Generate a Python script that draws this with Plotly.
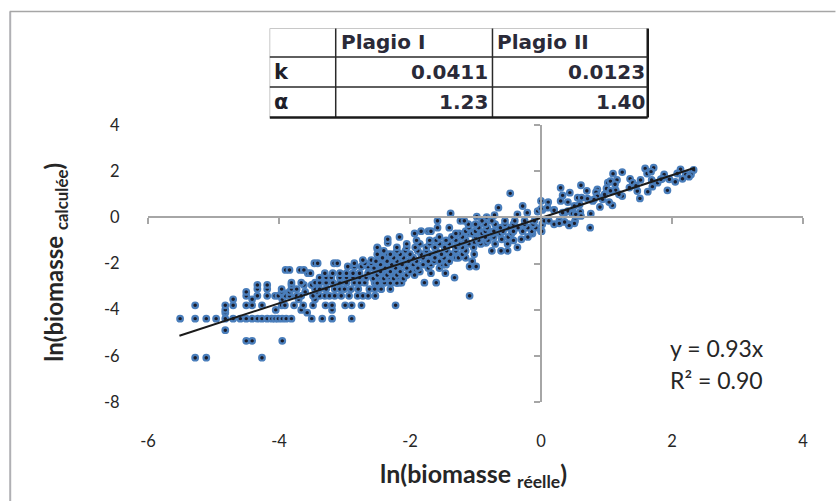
import plotly.graph_objects as go

level_y = [-6.08, -5.35, -4.89, -4.39, -4.13, -4.01, -3.81, -3.55, -3.40, -3.23, -3.11, -2.93, -2.83, -2.61, -2.42, -2.28, -2.13, -1.99, -1.85, -1.60, -1.36, -1.10, -0.95]
level_x = [
    [-5.28, -5.11, -4.26],
    [-4.50, -4.41, -3.95],
    [-4.82],
    [-5.51, -5.28, -5.11, -4.96, -4.82, -4.70, -4.59, -4.50, -4.41, -4.33, -4.26, -4.18, -4.11, -4.06, -4.01, -3.95, -3.89, -3.81, -3.50, -3.34, -3.19, -2.89],
    [-3.57, -4.82],
    [-3.66, -3.19, -4.82, -4.05],
    [-5.28, -4.82, -4.70, -4.50, -4.41, -4.26, -3.96, -3.91, -3.77, -3.63, -3.48, -3.29, -3.19, -2.99, -2.89, -2.74, -2.22],
    [-4.70, -4.41, -3.95, -3.70, -3.45],
    [-4.50, -4.33, -4.18, -4.06, -4.01, -3.90, -3.84, -3.73, -3.66, -3.48, -3.38, -3.30, -3.23, -3.15, -3.05, -2.93, -2.80, -2.72, -2.64, -2.53, -2.53, -1.09],
    [-4.50, -3.95, -3.96, -3.84, -3.60, -3.42],
    [-4.33, -4.18, -3.96, -3.81, -3.73, -3.45, -3.38, -3.28, -3.15, -3.07, -3.00, -2.90, -2.79, -2.62, -2.54, -2.44, -2.44, -2.30],
    [-4.33, -4.18, -3.81, -3.62, -3.50],
    [-3.81, -3.66, -3.45, -3.38, -3.28, -3.18, -3.07, -2.97, -2.85, -2.77, -2.69, -2.54, -2.40, -2.39, -2.28, -2.16, -2.13, -1.78, -1.60],
    [-3.38, -3.28, -3.20, -3.07, -2.97, -2.87, -2.77, -2.67, -2.54, -2.44, -2.32, -2.19, -1.32],
    [-3.56, -3.52, -3.30, -3.18, -3.07, -2.97, -2.87, -2.77, -2.64, -2.52, -2.39, -2.26, -1.68, -1.46],
    [-3.90, -3.68, -3.84, -3.62, -1.91],
    [-2.95, -2.85, -2.74, -2.64, -2.52, -2.36, -2.21, -1.09, -0.99],
    [-3.46, -3.16, -2.85, -2.69, -2.59, -2.44, -2.32, -2.19, -3.41, -3.11],
    [-2.72, -2.59, -2.49, -2.36, -2.23, -2.13],
    [-2.46, -2.34, -2.24, -2.16],
    [-2.49, -2.50],
    [-2.34, -1.02, -0.84],
    [-2.34, -0.60, -0.30],
]

band_y = [-2.85, -2.65, -2.50, -2.35, -2.20, -2.05, -1.90, -1.75, -1.60, -1.45, -1.30, -1.15, -1.00, -0.85, -0.70, -0.60, -0.45, -0.30, -0.15]
band_x = [
    [-2.50, -2.30, -2.20],
    [-2.56, -2.40, -2.25, -2.10],
    [-2.50, -2.35, -2.20, -2.05, -1.93],
    [-2.45, -2.30, -2.15, -2.00, -1.85],
    [-2.55, -2.38, -2.22, -2.05, -1.88, -1.72, -1.55],
    [-2.45, -2.28, -2.12, -1.95, -1.80, -1.68, -1.50, -1.45],
    [-2.52, -2.35, -2.20, -2.02, -1.90, -1.72, -1.55, -1.40, -1.05, -1.63],
    [-2.42, -2.25, -2.10, -1.95, -1.80, -1.62, -1.48, -1.30, -1.26, -1.15],
    [-2.50, -2.30, -2.15, -2.00, -1.83, -1.70, -1.52, -1.38, -1.20, -1.02],
    [-2.40, -2.20, -2.07, -1.88, -1.75, -1.60, -1.44, -1.30, -1.15, -0.61, -0.51, -0.75],
    [-2.20, -2.05, -1.92, -1.75, -1.62, -1.47, -1.30, -1.20, -1.03, -2.50, -0.36],
    [-2.05, -1.85, -1.70, -1.55, -1.40, -1.25, -1.10, -0.92, -0.51, -0.70],
    [-1.90, -1.70, -1.60, -1.45, -1.30, -1.15, -0.95, -0.81, -0.42],
    [-1.55, -1.36, -1.20, -1.00, -2.16, -0.85, -0.72, -0.50, -0.20],
    [-1.25, -1.00, -1.30, -1.10, -1.93, -0.13, -1.05, -0.90, -0.75, -0.62, -0.45],
    [-1.83, -1.72, -1.68, -1.15, -1.00, -0.85, -0.72, -0.58, -0.42, -0.28, -0.14, -0.00, 0.01],
    [-1.58, -1.40, -1.10, -0.95, -0.82, -0.62, -0.50, -0.35, -0.20, -0.08, 0.75],
    [-1.11, -1.00, -0.85, -0.70, -0.55, -0.42, -0.25, -0.12, 0.02, 0.20, 0.42],
    [-1.58, -1.23, -1.17, -0.90, -0.75, -0.55, -0.40, -0.25, -0.10, 0.05, 0.12, 0.28, 0.52],
]

upper_x = [-1.38, -0.98, -0.83, -0.47, -0.65, -0.71, -0.36, -0.21, -0.05, 0.02, -0.28, -0.00, 0.11, 0.30, 0.33, 0.44, 0.30, 0.41, 0.56, 0.61, 0.20, 0.36, 0.48, 0.62, 0.70, 0.86, 0.84, 1.02, 1.06, 1.10, 1.24, 1.16, 1.36, 1.52, 1.59, 1.72, 1.62, 1.68, 1.88, 1.85, 1.78, 1.69, 2.13, 2.08, 2.33, 2.29, 2.21, 2.16, 2.05, 1.96, 1.93, 1.70, 1.63, 1.51, 1.47, 1.24, 1.19, 1.14, 1.13, 1.09, 1.04, 0.90, 0.94, 0.79, 0.71, 0.76, 0.60, 0.61, 0.51, 0.43, 0.48, 0.41, 0.33, 0.20, 0.10, -0.05, 0.00, 0.51, 0.59, 0.48, 0.53, 0.86, 1.00, 1.06, 0.97, 0.81, 1.40, 1.45, 1.35, 1.83, 2.26, 0.36, 0.28]
upper_y = [0.17, 0.03, 0.01, 1.04, 0.42, 0.10, 0.13, 0.20, 0.25, 0.32, 0.49, 0.71, 0.66, 1.28, 0.95, 1.07, 0.71, 0.66, 0.85, 1.39, 0.32, 0.20, 0.25, 0.85, 1.15, 1.21, 1.09, 1.50, 1.57, 1.89, 1.96, 1.62, 1.67, 1.62, 2.12, 2.15, 1.90, 1.98, 1.86, 1.67, 1.50, 1.62, 2.08, 1.90, 2.05, 1.86, 1.86, 1.67, 1.54, 1.65, 1.17, 1.33, 1.11, 0.82, 1.14, 0.92, 1.00, 1.18, 1.43, 0.52, 0.66, 0.45, 0.78, 0.71, 0.81, 0.16, 0.24, 0.06, -0.26, -0.35, 0.27, 0.27, 0.20, 0.31, 0.42, 0.27, 0.37, 0.49, 0.56, 0.16, 0.13, 0.92, 1.25, 1.15, 0.99, 0.78, 1.50, 1.37, 1.29, 1.65, 1.76, -0.20, -0.26]

trend_x = [-5.52, 2.35]
trend_y = [-5.13, 2.15]

x_ticks = [-6, -4, -2, 0, 2, 4]
y_ticks = [-8, -6, -4, -2, 0, 2, 4]
x_tick_text = ["-6", "-4", "-2", "0", "2", "4"]
y_tick_text = ["-8", "-6", "-4", "-2", "0", "2", "4"]

table_head = ["", "Plagio I", "Plagio II"]
table_rows = [["k", "0.0411", "0.0123"], ["α", "1.23", "1.40"]]

real_values = []
calc_values = []
for levels, rows in ((level_y, level_x), (band_y, band_x)):
    for yv, xs in zip(levels, rows):
        for xv in xs:
            real_values.append(xv)
            calc_values.append(yv)
real_values += upper_x
calc_values += upper_y

W, H = 836, 501
L, R, T, B = 147.5, 803.5, 125.0, 402.0
PW, PH = R - L, B - T


def px(v):
    return (v - L) / PW


def py(v):
    return (B - v) / PH


fig = go.Figure()
# helper trace that makes the axes crossing at zero appear
fig.add_trace(go.Scatter(x=[None], y=[None], xaxis="x", yaxis="y", showlegend=False))
fig.add_trace(go.Scatter(
    x=real_values, y=calc_values, mode="markers", xaxis="x2", yaxis="y2", showlegend=False,
    marker=dict(size=5.6, color="#1c1c28", line=dict(color="#4a7ebb", width=2.2)),
))
fig.add_trace(go.Scatter(
    x=trend_x, y=trend_y, mode="lines", xaxis="x2", yaxis="y2", showlegend=False,
    line=dict(color="#1a1a1a", width=2),
))

GREY = "#a6a6a6"
FONT = "Lato"
fig.update_layout(
    width=W, height=H, autosize=False,
    paper_bgcolor="white", plot_bgcolor="white",
    margin=dict(l=L, r=W - R, t=T, b=H - B),
    font=dict(family=FONT, size=16, color="#262626"),
    xaxis=dict(range=[-6, 4], tickvals=x_ticks, anchor="free", position=(0 + 8) / 12,
               showline=True, linecolor=GREY, linewidth=2, ticks="outside", ticklen=6,
               tickcolor=GREY, tickwidth=2, showticklabels=False, showgrid=False, zeroline=False),
    yaxis=dict(range=[-8, 4], tickvals=y_ticks, anchor="free", position=(0 + 6) / 10,
               showline=True, linecolor=GREY, linewidth=2, ticks="outside", ticklen=6,
               tickcolor=GREY, tickwidth=2, showticklabels=False, showgrid=False, zeroline=False),
    xaxis2=dict(range=[-6, 4], tickvals=x_ticks, ticktext=x_tick_text, overlaying="x", anchor="y2", side="bottom",
                ticks="outside", ticklen=24, tickcolor="rgba(0,0,0,0)", showgrid=False,
                zeroline=False, showline=False, tickfont=dict(family=FONT, size=16.5, color="#262626")),
    yaxis2=dict(range=[-8, 4], tickvals=y_ticks, ticktext=y_tick_text, overlaying="y", anchor="x2", side="left",
                ticks="outside", ticklen=24, tickcolor="rgba(0,0,0,0)", showgrid=False,
                zeroline=False, showline=False, tickfont=dict(family=FONT, size=16.5, color="#262626")),
)

shapes = []


def seg(x0, y0, x1, y1, color, width):
    shapes.append(dict(type="line", xref="paper", yref="paper", x0=px(x0), y0=py(y0), x1=px(x1), y1=py(y1),
                       line=dict(color=color, width=width), layer="above"))


# outer chart frame
seg(9.5, 11.5, 9.5, 501, "#b0b0b4", 2)
seg(9, 11.5, 836, 11.5, "#a6a6a6", 1.5)

# table grid
tx = [269.5, 335.5, 492.5, 648.0]
ty = [28.5, 57.0, 87.0, 117.5]
seg(tx[0], ty[0], tx[3], ty[0], "#c8c8c8", 1)
seg(tx[0], ty[0], tx[0], ty[3], "#c8c8c8", 1)
seg(tx[1], ty[0], tx[1], ty[3], "#2a2a2a", 1.5)
seg(tx[2], ty[0], tx[2], ty[3], "#2a2a2a", 1.5)
seg(tx[3], ty[0], tx[3], ty[3], "#1a1a1a", 2.5)
seg(tx[0], ty[1], tx[3], ty[1], "#2a2a2a", 1.5)
seg(tx[0], ty[2], tx[3], ty[2], "#2a2a2a", 1.5)
seg(tx[0], ty[3], tx[3], ty[3], "#1a1a1a", 2.5)
fig.update_layout(shapes=shapes)

annotations = []


def label(x, y, text, size, family=FONT, anchor="left", angle=0, color="#262626"):
    annotations.append(dict(xref="paper", yref="paper", x=px(x), y=py(y), text=text, showarrow=False,
                            xanchor=anchor, yanchor="middle", textangle=angle,
                            font=dict(family=family, size=size, color=color)))


TF = "DejaVu Sans"
TS = 20
for j, h in enumerate(table_head):
    if h:
        label(tx[j] + 3, 42, f"<b>{h}</b>", TS, TF, color="#2a2a38")
for i, row in enumerate(table_rows):
    yc = (ty[i + 1] + ty[i + 2]) / 2
    label(tx[0] + 2, yc, f"<b>{row[0]}</b>", TS + 1, TF, color="#1f1f2a")
    label(tx[2] - 2, yc, f"<b>{row[1]}</b>", TS, TF, anchor="right", color="#2a2a38")
    label(tx[3] - 1, yc, f"<b>{row[2]}</b>", TS, TF, anchor="right", color="#2a2a38")

label(668, 348, "y = 0.93x", 23)
label(668, 380, "R² = 0.90", 23)
label(473, 475, "<b>ln(biomasse <sub>réelle</sub>)</b>", 25, anchor="center")
label(54, 262, "<b>ln(biomasse <sub>calculée</sub>)</b>", 24, anchor="center", angle=-90)
fig.update_layout(annotations=annotations)

fig.write_html("out.html", config=dict(displayModeBar=False), post_script="document.body.style.margin='0';")
